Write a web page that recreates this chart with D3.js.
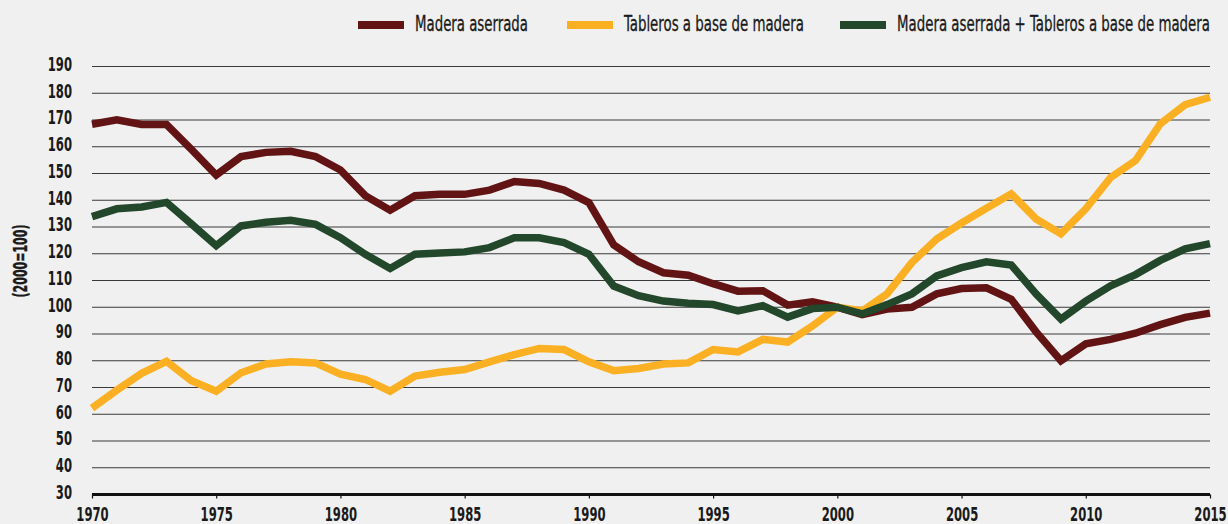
<!DOCTYPE html>
<meta charset="utf-8">
<style>
body { margin: 0; background: #f0f0f0; }
svg { display: block; background: #f0f0f0; }
text { font-family: "DejaVu Sans Condensed", "DejaVu Sans", sans-serif; fill: #1a1a1a; }
.grid line { stroke: #3a3a3a; stroke-width: 1; }
.serie { fill: none; stroke-width: 7.5; stroke-linejoin: miter; stroke-linecap: butt; }
</style>
<svg width="1228" height="524"></svg>
<script src="https://d3js.org/d3.v7.min.js"></script>
<script>

// datos (índice 2000=100)
var anios = d3.range(1970, 2016);

var maderaAserrada = [168.4, 170.1, 168.3, 168.3, 159, 149.4, 156.3, 157.9, 158.3, 156.3,
  151.3, 141.7, 136.3, 141.7, 142.2, 142.2, 143.8, 147, 146.3, 143.8,
  139.1, 123.3, 117, 112.9, 112, 108.8, 106, 106.2, 100.8, 102,
  100, 97.2, 99.3, 100, 105, 107, 107.3, 103, 90.8, 80,
  86.3, 88, 90.3, 93.5, 96.2, 97.8];

var tableros = [62.3, 69, 75.3, 79.8, 72.5, 68.6, 75.5, 78.8, 79.6, 79.2,
  75, 73, 68.6, 74.3, 75.7, 76.7, 79.6, 82.3, 84.6, 84.2,
  79.6, 76.3, 77.1, 78.8, 79.2, 84.2, 83.3, 88, 87, 93,
  100, 98.6, 105, 116.7, 125.5, 131.5, 137, 142.4, 133, 127.5,
  136.8, 148.5, 154.8, 168.6, 175.7, 178.5];

var total = [133.9, 136.8, 137.5, 139.2, 131.2, 123, 130.4, 131.8, 132.5, 131,
  126, 119.8, 114.5, 119.8, 120.3, 120.7, 122.3, 126, 126, 124.2,
  119.8, 107.9, 104.3, 102.3, 101.5, 101, 98.6, 100.6, 96.3, 99.5,
  100, 97.5, 101, 105, 111.7, 114.8, 117, 115.8, 105, 95.6,
  102.3, 108, 112.2, 117.5, 121.8, 123.8];

var nombres = ["Madera aserrada", "Tableros a base de madera", "Madera aserrada + Tableros a base de madera"];
var colores = ["#621313", "#fab022", "#22472b"];
var ticksX = [1970, 1975, 1980, 1985, 1990, 1995, 2000, 2005, 2010, 2015];
var ticksY = d3.range(30, 200, 10);
var tituloY = "(2000=100)";

var margin = {top: 66.5, right: 18, bottom: 29.5, left: 92},
    larguraSVG = 1228, alturaSVG = 524,
    larguraVis = larguraSVG - margin.left - margin.right,
    alturaVis = alturaSVG - margin.top - margin.bottom;

var svg = d3.select("svg");
var g = svg.append("g").attr("transform", "translate(" + margin.left + "," + margin.top + ")");

var x = d3.scaleLinear().domain([1970, 2015]).range([0, larguraVis]);
var y = d3.scaleLinear().domain([30, 190]).range([alturaVis, 0]);

// grilla horizontal
g.append("g")
    .attr("class", "grid")
  .selectAll("line")
  .data(ticksY.filter(d => d > 30))
  .enter().append("line")
    .attr("x1", 0)
    .attr("x2", larguraVis)
    .attr("y1", d => y(d))
    .attr("y2", d => y(d));

// eje Y (solo etiquetas)
var ejeY = g.append("g")
    .call(d3.axisLeft(y).tickValues(ticksY).tickSize(0).tickPadding(0));
ejeY.select(".domain").remove();
ejeY.selectAll("text")
    .attr("x", 0)
    .attr("dy", "0.2em")
    .attr("transform", "translate(-20,0) scale(0.68,1)")
    .style("font-size", "19px")
    .style("font-weight", "bold")
    .style("font-family", null);

// eje X
var ejeX = g.append("g")
    .attr("transform", "translate(0," + alturaVis + ")")
    .call(d3.axisBottom(x).tickValues(ticksX).tickFormat(d3.format("d")).tickSize(4).tickPadding(0));
ejeX.select(".domain").remove();
ejeX.selectAll("line").attr("stroke", "#111").attr("stroke-width", 1.2);
ejeX.selectAll("text")
    .attr("y", 0)
    .attr("dy", 0)
    .attr("transform", "translate(0,26) scale(0.68,1)")
    .style("font-size", "19px")
    .style("font-weight", "bold")
    .style("font-family", null);

// línea base
g.append("line")
    .attr("x1", 0)
    .attr("x2", larguraVis)
    .attr("y1", y(30))
    .attr("y2", y(30))
    .attr("stroke", "#111")
    .attr("stroke-width", 3);

// título eje Y
svg.append("text")
    .attr("transform", "translate(27,261) rotate(-90)")
    .attr("text-anchor", "middle")
    .attr("textLength", 73)
    .attr("lengthAdjust", "spacingAndGlyphs")
    .style("font-size", "19px")
    .style("font-weight", "bold")
    .style("stroke", "#1a1a1a")
    .style("stroke-width", 0.4)
    .text(tituloY);

// series
var series = [maderaAserrada, tableros, total];
var linea = d3.line()
    .x((d, i) => x(anios[i]))
    .y(d => y(d));

g.selectAll(".serie")
  .data(series)
  .enter().append("path")
    .attr("class", "serie")
    .attr("stroke", (d, i) => colores[i])
    .attr("d", linea);

// leyenda
var posLeyenda = [358, 567, 840];
var anchoTexto = [113, 180, 313];
var leyenda = svg.append("g")
  .selectAll("g")
  .data(nombres)
  .enter().append("g")
    .attr("transform", (d, i) => "translate(" + posLeyenda[i] + ",21)");

leyenda.append("rect")
    .attr("width", 46)
    .attr("height", 8)
    .attr("fill", (d, i) => colores[i]);

leyenda.append("text")
    .attr("x", 57)
    .attr("y", 10)
    .attr("textLength", (d, i) => anchoTexto[i])
    .attr("lengthAdjust", "spacingAndGlyphs")
    .style("font-size", "21px")
    .style("stroke", "#1a1a1a")
    .style("stroke-width", 0.3)
    .text(d => d);

</script>
